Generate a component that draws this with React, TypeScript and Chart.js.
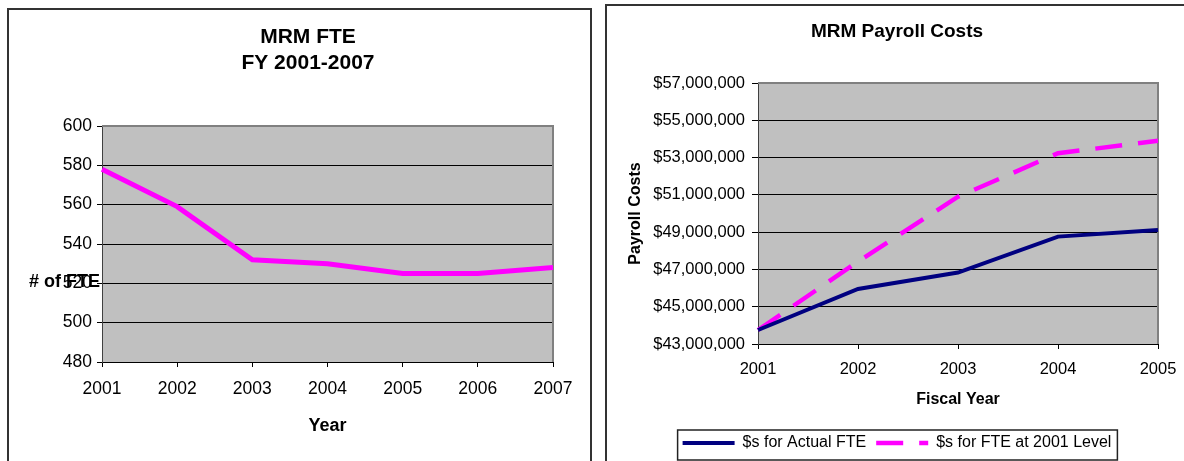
import React, { useEffect, useRef } from 'react';
import { Chart, registerables } from 'chart.js';

Chart.register(...registerables);

const FONT = "'Liberation Sans', Arial, sans-serif";

// ---- Left chart data ----
const fteYears = ['2001', '2002', '2003', '2004', '2005', '2006', '2007'];
const fteValues = [578, 559, 532, 530, 525, 525, 528];
const fteTicks = [480, 500, 520, 540, 560, 580, 600];
const fteTitle = ['MRM FTE', 'FY 2001-2007'];
const fteXTitle = 'Year';
const fteYTitle = '# of FTE';

// ---- Right chart data ----
const payrollYears = ['2001', '2002', '2003', '2004', '2005'];
const actualCosts = [43750000, 45950000, 46830000, 48760000, 49120000];
const levelCosts = [43750000, 47420000, 50900000, 53230000, 53900000];
const payrollTicks = [43000000, 45000000, 47000000, 49000000, 51000000, 53000000, 55000000, 57000000];
const payrollTitle = 'MRM Payroll Costs';
const payrollXTitle = 'Fiscal Year';
const payrollYTitle = 'Payroll Costs';
const actualLabel = '$s for Actual FTE';
const levelLabel = '$s for FTE at 2001 Level';

const plotFrame = {
  id: 'plotFrame',
  beforeDraw(chart: any) {
    const { ctx, chartArea: a } = chart;
    ctx.save();
    ctx.fillStyle = '#C0C0C0';
    ctx.fillRect(a.left, a.top, a.right - a.left, a.bottom - a.top);
    ctx.restore();
  },
  beforeDatasetsDraw(chart: any) {
    const { ctx, chartArea: a } = chart;
    ctx.save();
    ctx.strokeStyle = '#808080';
    ctx.lineWidth = 2;
    ctx.beginPath();
    ctx.moveTo(a.left, a.top);
    ctx.lineTo(a.right, a.top);
    ctx.lineTo(a.right, a.bottom);
    ctx.stroke();
    ctx.restore();
  },
};

const sideTitle = {
  id: 'sideTitle',
  afterDraw(chart: any) {
    const { ctx } = chart;
    ctx.save();
    ctx.font = `bold 18px ${FONT}`;
    ctx.fillStyle = '#000';
    ctx.textAlign = 'left';
    ctx.textBaseline = 'middle';
    ctx.fillText(fteYTitle, 29, 282);
    ctx.restore();
  },
};

const legendFrame = {
  id: 'legendFrame',
  afterDraw(chart: any) {
    const lg = chart.legend;
    if (!lg || !lg.legendHitBoxes || !lg.legendHitBoxes.length) return;
    const hb = lg.legendHitBoxes;
    const first = hb[0];
    const last = hb[hb.length - 1];
    const l = first.left - 5;
    const r = last.left + last.width + 6;
    const t = first.top - 5;
    const b = first.top + first.height + 9;
    const { ctx } = chart;
    ctx.save();
    ctx.strokeStyle = '#222';
    ctx.lineWidth = 1.5;
    ctx.strokeRect(l, t, r - l, b - t);
    ctx.restore();
  },
};

export default function App() {
  const leftRef = useRef<HTMLCanvasElement>(null);
  const rightRef = useRef<HTMLCanvasElement>(null);

  useEffect(() => {
    const left = new Chart(leftRef.current as HTMLCanvasElement, {
      type: 'line',
      data: {
        labels: fteYears,
        datasets: [
          {
            label: fteYTitle,
            data: fteValues,
            borderColor: '#FF00FF',
            backgroundColor: '#FF00FF',
            borderWidth: 5,
            pointRadius: 0,
            tension: 0,
            fill: false,
          },
        ],
      },
      options: {
        responsive: false,
        maintainAspectRatio: false,
        animation: false,
        layout: { padding: { left: 63, right: 47, top: 0, bottom: 0 } },
        plugins: {
          legend: { display: false },
          tooltip: { enabled: false },
          title: {
            display: true,
            text: fteTitle,
            color: '#000',
            font: { family: FONT, size: 21, weight: 'bold', lineHeight: 26 / 21 },
            padding: { top: 24, bottom: 50 },
          },
        },
        scales: {
          x: {
            type: 'category',
            offset: false,
            grid: { drawOnChartArea: false, color: '#000', tickLength: 5 },
            border: { color: '#000', width: 1 },
            ticks: { color: '#000', font: { family: FONT, size: 17.5 }, padding: 12, maxRotation: 0, autoSkip: false },
            title: {
              display: true,
              text: fteXTitle,
              color: '#000',
              font: { family: FONT, size: 18, weight: 'bold' },
              padding: { top: 0, bottom: 24 },
            },
            afterFit: (s: any) => {
              s.height = 99;
              s.paddingLeft = 0;
              s.paddingRight = 0;
            },
          },
          y: {
            min: 480,
            max: 600,
            afterBuildTicks: (s: any) => {
              s.ticks = fteTicks.map((v) => ({ value: v }));
            },
            grid: { color: '#000', tickLength: 5 },
            border: { color: '#404040', width: 1 },
            ticks: { color: '#000', font: { family: FONT, size: 17.5 }, padding: 5 },
            afterFit: (s: any) => {
              s.width = 39;
            },
          },
        },
      } as any,
      plugins: [plotFrame, sideTitle],
    });

    const right = new Chart(rightRef.current as HTMLCanvasElement, {
      type: 'line',
      data: {
        labels: payrollYears,
        datasets: [
          {
            label: actualLabel,
            data: actualCosts,
            borderColor: '#000080',
            backgroundColor: '#000080',
            borderWidth: 4,
            pointRadius: 0,
            tension: 0,
            fill: false,
          },
          {
            label: levelLabel,
            data: levelCosts,
            borderColor: '#FF00FF',
            backgroundColor: '#FF00FF',
            borderWidth: 4.5,
            borderDash: [27, 16],
            pointRadius: 0,
            tension: 0,
            fill: false,
          },
        ],
      },
      options: {
        responsive: false,
        maintainAspectRatio: false,
        animation: false,
        layout: { padding: { left: 36, right: 26, top: 0, bottom: 0 } },
        plugins: {
          tooltip: { enabled: false },
          title: {
            display: true,
            text: payrollTitle,
            color: '#000',
            font: { family: FONT, size: 19, weight: 'bold', lineHeight: 1.2 },
            padding: { top: 20.6, bottom: 39.6 },
          },
          legend: {
            display: true,
            position: 'bottom',
            labels: {
              usePointStyle: true,
              pointStyle: 'line',
              pointStyleWidth: 52,
              padding: 10,
              color: '#000',
              font: { family: FONT, size: 16 },
              generateLabels: (chart: any) =>
                chart.data.datasets.map((ds: any, i: number) => ({
                  text: ds.label,
                  strokeStyle: ds.borderColor,
                  fillStyle: ds.borderColor,
                  lineWidth: ds.borderWidth,
                  lineDash: ds.borderDash || [],
                  lineDashOffset: 0,
                  lineCap: 'butt',
                  pointStyle: 'line',
                  hidden: false,
                  datasetIndex: i,
                  fontColor: '#000',
                })),
            },
          },
        },
        scales: {
          x: {
            type: 'category',
            offset: false,
            grid: { drawOnChartArea: false, color: '#000', tickLength: 5 },
            border: { color: '#000', width: 1 },
            ticks: { color: '#000', font: { family: FONT, size: 16.5 }, padding: 11, maxRotation: 0, autoSkip: false },
            title: {
              display: true,
              text: payrollXTitle,
              color: '#000',
              font: { family: FONT, size: 16, weight: 'bold' },
              padding: { top: 0, bottom: 15.4 },
            },
            afterFit: (s: any) => {
              s.height = 81;
              s.paddingLeft = 0;
              s.paddingRight = 0;
            },
          },
          y: {
            min: 43000000,
            max: 57000000,
            afterBuildTicks: (s: any) => {
              s.ticks = payrollTicks.map((v) => ({ value: v }));
            },
            grid: { color: '#000', tickLength: 6 },
            border: { color: '#404040', width: 1 },
            ticks: {
              color: '#000',
              font: { family: FONT, size: 16.5 },
              padding: 7,
              callback: (v: any) => '$' + Number(v).toLocaleString('en-US'),
            },
            title: {
              display: true,
              text: payrollYTitle,
              color: '#000',
              font: { family: FONT, size: 16, weight: 'bold' },
              padding: { top: -9.6, bottom: 0 },
            },
            afterFit: (s: any) => {
              s.width = 122;
            },
          },
        },
      } as any,
      plugins: [plotFrame, legendFrame],
    });

    return () => {
      left.destroy();
      right.destroy();
    };
  }, []);

  return (
    <div style={{ position: 'absolute', left: 0, top: 0, width: 1184, height: 461, background: '#fff', overflow: 'hidden' }}>
      <canvas ref={leftRef} width={600} height={461} style={{ position: 'absolute', left: 0, top: 0, width: 600, height: 461 }} />
      <canvas ref={rightRef} width={584} height={461} style={{ position: 'absolute', left: 600, top: 0, width: 584, height: 461 }} />
      <div
        style={{
          position: 'absolute',
          left: 7,
          top: 8,
          width: 585,
          height: 470,
          boxSizing: 'border-box',
          borderLeft: '2px solid #333',
          borderTop: '2px solid #333',
          borderRight: '2px solid #333',
        }}
      />
      <div
        style={{
          position: 'absolute',
          left: 605,
          top: 4,
          width: 700,
          height: 470,
          boxSizing: 'border-box',
          borderLeft: '2px solid #333',
          borderTop: '2px solid #333',
        }}
      />
    </div>
  );
}
